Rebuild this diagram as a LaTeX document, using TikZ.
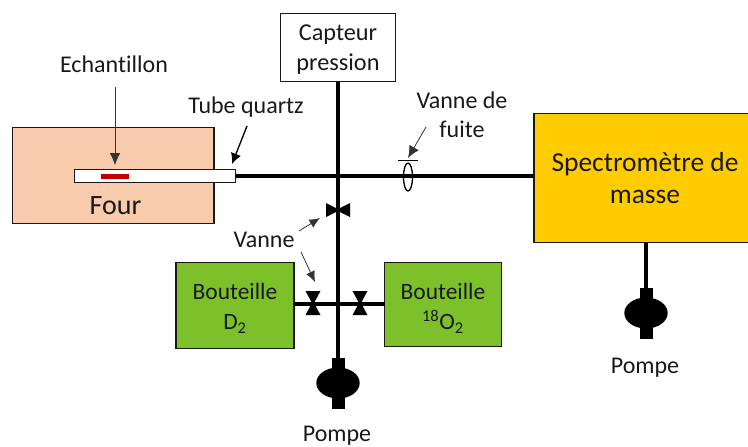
\documentclass[tikz,border=0pt]{standalone}
\usepackage{fontspec}
\setmainfont[Ligatures=NoCommon]{Carlito}
\usetikzlibrary{arrows.meta}
\tikzset{
  x=0.75pt,y=-0.75pt,
  boxnode/.style={draw=black!90,line width=1pt,inner sep=0pt,outer sep=0pt,anchor=north west},
  lbl/.style={inner sep=0pt,align=center,text=black!90,font=\fontsize{18}{21.75}\selectfont},
  boxtext/.style={inner sep=0pt,align=center,text=black!90,font=\fontsize{17.6}{23}\selectfont},
  pipe/.style={line width=2.7pt,black},
  thinarrow/.style={-{Latex[length=9pt,width=8pt]},line width=0.6pt,black!80},
  boldarrow/.style={-{Latex[length=8pt,width=8pt]},line width=1pt,black},
  smallarrow/.style={-{Latex[length=8pt,width=7pt]},line width=0.6pt,black!80},
  valveH/.pic={\fill[black] (-12,-7)--(0,-1)--(12,-7)--(12,7)--(0,1)--(-12,7)--cycle;},
  valveV/.pic={\fill[black] (-7.5,-12)--(-1,0)--(-7.5,12)--(7.5,12)--(1,0)--(7.5,-12)--cycle;},
  pump/.pic={\fill[black] (-6.5,-25.5) rectangle (6.5,25.5); \fill[black] (0,0) ellipse [x radius=21.7,y radius=15.5];},
}
\begin{document}
\begin{tikzpicture}
\useasboundingbox (0,0) rectangle (748,446);
% boxes
\node[boxnode,fill={rgb,255:red,247;green,203;blue,172},minimum width=151pt,minimum height=72pt] (four) at (12.5,127.5) {};
\node[lbl,font=\fontsize{21}{25}\selectfont] (fourlabel) at (115.5,206) {Four};
\node[boxnode,fill=white,minimum width=120.75pt,minimum height=9.75pt] (tube) at (74.5,169.5) {};
\node[fill={rgb,255:red,192;green,0;blue,0},minimum width=21pt,minimum height=3.75pt,inner sep=0pt] (sample) at (115,176.5) {};
\node[boxnode,fill=white,minimum width=86pt,minimum height=51pt] (capteur) at (280.5,13.5) {};
\node[boxtext,font=\fontsize{18.2}{22.5}\selectfont] (capteurtext) at (338,50) {Capteur\\pression};
\node[boxnode,fill={rgb,255:red,255;green,204;blue,0},minimum width=161pt,minimum height=96.75pt] (spectro) at (534,113.5) {};
\node[boxtext,font=\fontsize{20.6}{24}\selectfont] (spectrotext) at (645,178.5) {Spectromètre de\\masse};
\node[boxnode,fill={rgb,255:red,125;green,192;blue,42},minimum width=88.5pt,minimum height=64.5pt] (d2) at (176,262.5) {};
\node[boxtext] (d2text) at (235,308) {Bouteille\\D$_{\mathrm{2}}$};
\node[boxnode,fill={rgb,255:red,125;green,192;blue,42},minimum width=87.75pt,minimum height=63pt] (o2) at (384.5,262.5) {};
\node[boxtext] (o2text) at (443,308) {Bouteille\\$^{\mathrm{18}}$O$_{\mathrm{2}}$};
% junctions and fittings
\coordinate (low) at (338,304);
\coordinate (pumpA) at (338,383);
\coordinate (pumpB) at (646,313);
\coordinate (valveTop) at (338,210);
\coordinate (valveL) at (313,303);
\coordinate (valveR) at (360,303);
\coordinate (leak) at (408,177);
% pipes
\draw[pipe] (tube.east) -- (tube.east -| spectro.west);
\draw[pipe] (capteur.south -| pumpA) -- (pumpA);
\draw[pipe] (low -| d2.east) -- (low -| o2.west);
\draw[pipe] (spectro.south -| pumpB) -- (pumpB);
% valves and pumps
\pic at (valveTop) {valveH};
\pic at (valveL) {valveV};
\pic at (valveR) {valveV};
\pic at (pumpA) {pump};
\pic at (pumpB) {pump};
\draw[line width=1pt,black] (leak) ellipse [x radius=4.5,y radius=14];
\draw[line width=1pt,black] (398,160.5) -- (418,160.5);
% labels
\node[lbl] (ech) at (114,64) {Echantillon};
\node[lbl] (tq) at (246,107) {Tube quartz};
\node[lbl] (vf) at (462,114.5) {Vanne de\\fuite};
\node[lbl] (vanne) at (264,240) {Vanne};
\node[lbl] (p1) at (337,435.5) {Pompe};
\node[lbl] (p2) at (645,368) {Pompe};
% arrows
\coordinate (a1s) at (115,87); \coordinate (a1e) at (115,165);
\draw[thinarrow] (a1s) -- (a1e);
\coordinate (a2s) at (247,126); \coordinate (a2e) at (232,164);
\draw[boldarrow] (a2s) -- (a2e);
\coordinate (a3s) at (426,127); \coordinate (a3e) at (408,158);
\draw[thinarrow] (a3s) -- (a3e);
\coordinate (a4s) at (299,231); \coordinate (a4e) at (320,218);
\draw[smallarrow] (a4s) -- (a4e);
\coordinate (a5s) at (301,252); \coordinate (a5e) at (315,282);
\draw[smallarrow] (a5s) -- (a5e);
\end{tikzpicture}
\end{document}
